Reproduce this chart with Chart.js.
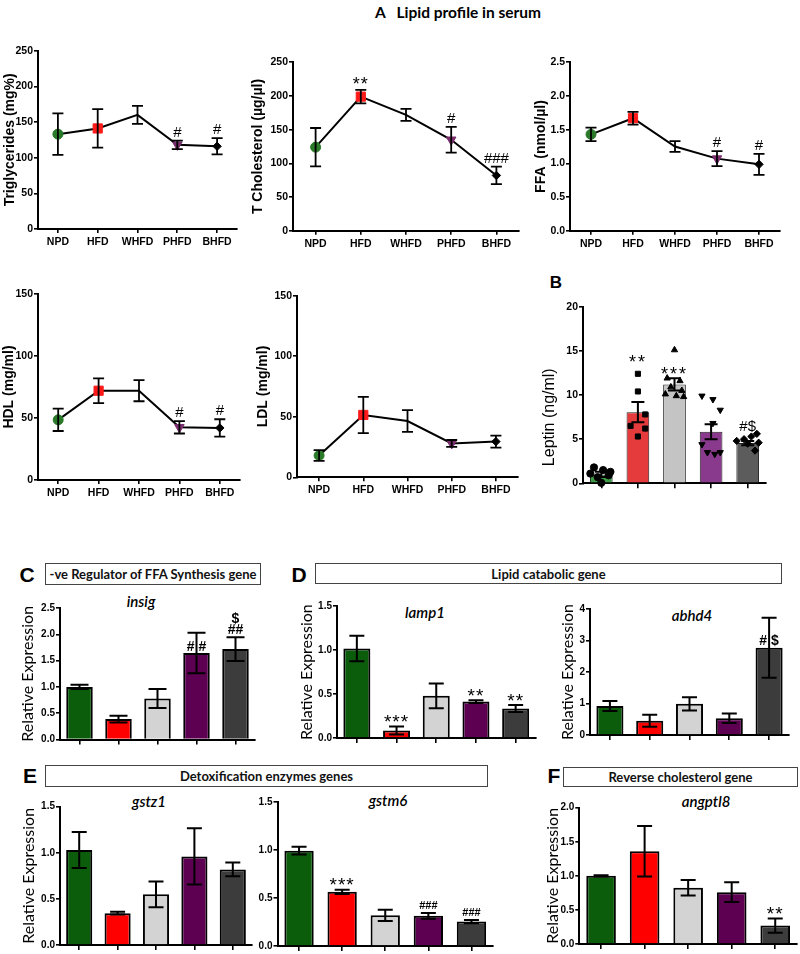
<!DOCTYPE html>
<html><head><meta charset="utf-8">
<script src="https://cdn.jsdelivr.net/npm/chart.js@4.4.1/dist/chart.umd.min.js"></script>
<style>
html,body{margin:0;padding:0;background:#fff;}
#wrap{position:relative;width:800px;height:954px;overflow:hidden;background:#fff;}
canvas{position:absolute;}
.c{position:absolute;white-space:nowrap;color:#000;transform:translate(-50%,-50%);}
.box{position:absolute;border:1px solid #444;box-sizing:border-box;display:flex;align-items:center;justify-content:center;font:bold 13px Lato,"Open Sans",sans-serif;color:#111;}
.let{font:bold 21px "Liberation Sans",Arial,sans-serif;}
.gene{font:italic 600 15px Lato,"Open Sans",sans-serif;}
</style></head><body><div id="wrap">
<div class="c" style="left:458px;top:12px;font:bold 15.5px Lato,'Open Sans',sans-serif;">A&nbsp;&nbsp;&nbsp;Lipid profile in serum</div>
<div class="c let" style="left:556px;top:283px;font-size:17px;">B</div>
<div class="c let" style="left:27px;top:575px;">C</div>
<div class="c let" style="left:299px;top:575px;">D</div>
<div class="c let" style="left:30px;top:776px;">E</div>
<div class="c let" style="left:554px;top:776px;">F</div>
<div class="box" style="left:45px;top:563px;width:216px;height:22px;">-ve Regulator of FFA Synthesis gene</div>
<div class="box" style="left:315px;top:563px;width:467px;height:21px;">Lipid catabolic gene</div>
<div class="box" style="left:45px;top:765px;width:443px;height:22px;">Detoxification enzymes genes</div>
<div class="box" style="left:563px;top:767px;width:235px;height:20px;">Reverse cholesterol gene</div>
<div class="c gene" style="left:141px;top:601px;">insig</div>
<div class="c gene" style="left:425px;top:612px;">lamp1</div>
<div class="c gene" style="left:692px;top:615px;">abhd4</div>
<div class="c gene" style="left:149px;top:801px;">gstz1</div>
<div class="c gene" style="left:388px;top:800px;">gstm6</div>
<div class="c gene" style="left:706px;top:801px;">angptl8</div>
</div>
<script>
// ---------------- DATA ----------------
const groups = ['NPD', 'HFD', 'WHFD', 'PHFD', 'BHFD'];

// A: lipid profile in serum (mean, SEM)
const tgMean = [133, 141, 160, 118, 116];
const tgSem  = [29, 27, 12.5, 6, 11.5];
const tgMarks = ['', '', '', '#', '#'];
const tgTicks = [0, 50, 100, 150, 200, 250];

const tcMean = [124, 199, 172, 135, 82];
const tcSem  = [28.5, 10, 9, 19, 13];
const tcMarks = ['', '**', '', '#', '###'];
const tcTicks = [0, 50, 100, 150, 200, 250];

const ffaMean = [1.43, 1.67, 1.25, 1.07, 0.985];
const ffaSem  = [0.10, 0.095, 0.08, 0.11, 0.155];
const ffaMarks = ['', '', '', '#', '#'];
const ffaTicks = [0, 0.5, 1.0, 1.5, 2.0, 2.5];

const hdlMean = [48.5, 72, 72, 42.5, 42];
const hdlSem  = [9, 10, 8.5, 5, 7];
const hdlMarks = ['', '', '', '#', '#'];
const hdlTicks = [0, 50, 100, 150];

const ldlMean = [18, 51.5, 46.5, 28, 29.5];
const ldlSem  = [4.4, 15, 9, 2.8, 5];
const ldlMarks = ['', '', '', '', ''];
const ldlTicks = [0, 50, 100, 150];

// B: leptin
const lepMean = [1.0, 8.05, 11.2, 5.85, 4.55];
const lepSem  = [0.3, 1.15, 0.7, 0.85, 0.25];
const lepMarks = ['', '**', '***', '', '#$'];
const lepMarkAt = [null, 14.1, 12.8, null, 6.5];
const lepTicks = [0, 5, 10, 15, 20];
// individual animals: [horizontal jitter in category units, value]
const lepNPD  = [[-0.2, 1.8], [0.05, 1.5], [0.25, 1.3], [-0.3, 1.1], [0.2, 0.9], [-0.1, 0.7], [0.0, 0.05]];
const lepHFD  = [[0.0, 12.4], [0.0, 10.4], [0.2, 7.8], [-0.2, 6.5], [0.2, 6.2], [0.0, 5.3]];
const lepWHFD = [[0.0, 15.1], [-0.2, 11.9], [0.15, 11.6], [-0.1, 10.9], [0.2, 10.5], [-0.25, 10.1], [0.05, 9.9], [0.25, 9.8]];
const lepPHFD = [[-0.25, 9.9], [0.05, 9.5], [0.25, 8.3], [0.05, 6.8], [-0.25, 4.4], [-0.1, 3.5], [0.1, 3.3], [0.25, 3.5]];
const lepBHFD = [[0.25, 5.6], [0.1, 5.3], [-0.1, 5.0], [-0.3, 4.8], [0.3, 4.6], [0.0, 4.5], [0.2, 3.7]];

// C
const insigMean = [1.0, 0.39, 0.78, 1.645, 1.72];
const insigSem  = [0.04, 0.065, 0.18, 0.385, 0.225];
const insigMarks = ['', '', '', '# #', ['$', '##']];
const insigTicks = [0, 0.5, 1.0, 1.5, 2.0, 2.5];
// D
const lampMean = [1.02, 0.085, 0.48, 0.415, 0.335];
const lampSem  = [0.145, 0.045, 0.14, 0.015, 0.04];
const lampMarks = ['', '***', '', '**', '**'];
const lampTicks = [0, 0.5, 1.0, 1.5];
const abhdMean = [0.92, 0.455, 0.99, 0.53, 2.77];
const abhdSem  = [0.16, 0.19, 0.21, 0.15, 0.95];
const abhdMarks = ['', '', '', '', '# $'];
const abhdTicks = [0, 1, 2, 3, 4];
// E
const gstzMean = [1.03, 0.345, 0.55, 0.96, 0.82];
const gstzSem  = [0.195, 0.015, 0.14, 0.305, 0.075];
const gstzMarks = ['', '', '', '', ''];
const gstzTicks = [0, 0.5, 1.0, 1.5];
const gstmMean = [0.995, 0.565, 0.32, 0.315, 0.255];
const gstmSem  = [0.04, 0.022, 0.058, 0.03, 0.017];
const gstmMarks = ['', '***', '', '###', '###'];
const gstmTicks = [0, 0.5, 1.0, 1.5];
// F
const angMean = [1.0, 1.36, 0.825, 0.76, 0.27];
const angSem  = [0.008, 0.37, 0.115, 0.145, 0.105];
const angMarks = ['', '', '', '', '**'];
const angTicks = [0, 0.5, 1.0, 1.5, 2.0];

// ---------------- STYLE ----------------
const LINE_COL = ['#2a7a2a', '#ff1a1a', 'rgba(0,0,0,0)', '#7b2e6e', '#000000'];
const LINE_STY = ['circle', 'rect', 'triangle', 'triangle', 'rectRot'];
const LINE_ROT = [0, 0, 0, 180, 0];
const LINE_R   = [5, 6.5, 0, 5.5, 4.2];
const LEP_COL  = ['#3d9a45', '#e63b3d', '#c4c4c4', '#8a3a8c', '#5c5c5c'];
const GENE_COL = ['#0b5d0b', '#ff0000', '#d3d3d3', '#5e0052', '#3c3c3c'];

function hasFont(name) {
  const c = document.createElement('canvas').getContext('2d');
  c.font = 'bold 40px "' + name + '", monospace'; const a = c.measureText('WHFD 0123 mg').width;
  c.font = 'bold 40px "' + name + '", serif'; const b = c.measureText('WHFD 0123 mg').width;
  return Math.abs(a - b) < 0.5;
}
const NARROW = hasFont('Liberation Sans Narrow');
const TICKF = NARROW ? {family: '"Liberation Sans Narrow"', size: 12, weight: 'bold'}
                     : {family: '"Liberation Sans", Arial', size: 10.5, weight: 'bold'};
const BTICKF = {family: '"Liberation Sans", Arial', size: 10, weight: 'bold'};

const ERR = {};
Chart.register({
  id: 'errmarks',
  afterDatasetsDraw(chart) {
    const o = ERR[chart.canvas.id]; if (!o) return;
    const ctx = chart.ctx, xs = chart.scales.x, ys = chart.scales.y;
    ctx.save();
    ctx.strokeStyle = '#000'; ctx.fillStyle = '#000'; ctx.lineWidth = o.lw; ctx.lineCap = 'butt';
    o.mean.forEach((m, i) => {
      const x = xs.getPixelForValue(i);
      const yt = ys.getPixelForValue(m + o.sem[i]), yb = ys.getPixelForValue(m - o.sem[i]);
      ctx.beginPath();
      ctx.moveTo(x, yt); ctx.lineTo(x, yb);
      ctx.moveTo(x - o.cap, yt); ctx.lineTo(x + o.cap, yt);
      ctx.moveTo(x - o.cap, yb); ctx.lineTo(x + o.cap, yb);
      ctx.stroke();
      const mk = o.marks[i]; if (!mk) return;
      const lines = Array.isArray(mk) ? mk : [mk];
      let cy;
      if (o.markAt && o.markAt[i] != null) cy = ys.getPixelForValue(o.markAt[i]);
      else if (o.onBar && o.onBar.includes(i)) cy = ys.getPixelForValue(m) - o.barGap;
      else cy = yt - o.gap;
      ctx.textAlign = 'center'; ctx.textBaseline = 'alphabetic';
      for (let k = lines.length - 1; k >= 0; k--) {
        const s = lines[k];
        const star = s.includes('*');
        ctx.font = star ? o.starFont : o.hashFont;
        try { ctx.letterSpacing = star ? o.starSp : '0px'; } catch (e) {}
        const mt = ctx.measureText(s);
        const off = (mt.actualBoundingBoxAscent - mt.actualBoundingBoxDescent) / 2;
        ctx.fillText(s, x, cy + off);
        cy -= o.lineStep || 12;
      }
      try { ctx.letterSpacing = '0px'; } catch (e) {}
    });
    ctx.restore();
  }
});

let cid = 0;
function makeCanvas(g, lh, xh) {
  const left = Math.max(0, Math.floor(g.tx - lh / 2 - 2));
  const top = Math.floor(g.top - 14);
  const w = Math.ceil(g.ar + 6 - left);
  const h = Math.ceil(g.zero + xh - top);
  const cv = document.createElement('canvas');
  cv.id = 'c' + (cid++);
  cv.width = w; cv.height = h;
  cv.style.left = left + 'px'; cv.style.top = top + 'px';
  cv.style.width = w + 'px'; cv.style.height = h + 'px';
  document.getElementById('wrap').appendChild(cv);
  return {cv, yW: g.ax - left, padT: g.top - top, padR: left + w - g.ar, xH: top + h - g.zero, tPad: g.tx - left - lh / 2};
}

function axisBase(c, ticks, dec, tickFont, xLabels) {
  return {
    x: {
      offset: true,
      afterFit: s => { s.height = c.xH; },
      grid: {display: true, drawOnChartArea: false, drawTicks: true, tickLength: xLabels ? 4 : 5, color: '#000', lineWidth: 1.6, offset: false},
      border: {display: true, color: '#000', width: 2},
      ticks: {display: xLabels, color: '#000', font: tickFont, padding: 3, maxRotation: 0, autoSkip: false}
    },
    y: {
      min: 0, max: ticks[ticks.length - 1],
      afterBuildTicks: s => { s.ticks = ticks.map(v => ({value: v})); },
      afterFit: s => { s.width = c.yW; },
      grid: {display: true, drawOnChartArea: false, drawTicks: true, tickLength: 4, color: '#000', lineWidth: 1.6},
      border: {display: true, color: '#000', width: 2},
      ticks: {color: '#000', font: tickFont, padding: 1, callback: v => Number(v).toFixed(dec)}
    }
  };
}

function baseOpts(c, scales) {
  return {
    responsive: false, animation: false, devicePixelRatio: 1,
    layout: {padding: {top: c.padT, right: c.padR, left: 0, bottom: 0}},
    plugins: {legend: {display: false}, tooltip: {enabled: false}, title: {display: false}},
    scales
  };
}

function lineChart(g, mean, sem, ticks, dec, title, marks) {
  const lh = 14 * 1.1;
  const c = makeCanvas(g, lh, 24);
  const sc = axisBase(c, ticks, dec, TICKF, true);
  sc.y.title = {display: true, text: title, color: '#000',
    font: {family: '"Liberation Sans", Arial', size: 14, weight: 'bold', lineHeight: 1.1},
    padding: {top: c.tPad, bottom: 0}};
  ERR[c.cv.id] = {mean, sem, cap: 5.5, lw: 1.8, marks, gap: 9,
    hashFont: '15px "Liberation Sans", Arial', starFont: '18px "Liberation Sans", Arial', starSp: '1px'};
  new Chart(c.cv, {
    type: 'line',
    data: {labels: groups, datasets: [{
      data: mean, borderColor: '#000', borderWidth: 2, tension: 0, fill: false, clip: false,
      pointStyle: LINE_STY, pointRotation: LINE_ROT, pointRadius: LINE_R,
      pointBackgroundColor: LINE_COL, pointBorderColor: LINE_COL, pointBorderWidth: 1
    }]},
    options: baseOpts(c, sc)
  });
}

function geneChart(g, mean, sem, ticks, dec, marks, extra, showTitle) {
  const lh = 15 * 1.15;
  const c = makeCanvas(g, lh, 10);
  const sc = axisBase(c, ticks, dec, BTICKF, false);
  sc.y.title = {display: showTitle !== false, text: 'Relative Expression', color: '#000',
    font: {family: 'Lato, "Open Sans", sans-serif', size: 16, weight: 'normal', lineHeight: 1.15},
    padding: {top: c.tPad, bottom: 0}};
  ERR[c.cv.id] = Object.assign({mean, sem, cap: 7.5, lw: 2, marks, gap: 8, barGap: 7, lineStep: 11,
    hashFont: 'bold 14px "Liberation Sans", Arial', starFont: '19px "Liberation Sans", Arial', starSp: '1px'}, extra || {});
  new Chart(c.cv, {
    type: 'bar',
    data: {labels: groups, datasets: [{
      data: mean, backgroundColor: GENE_COL, borderColor: '#000', borderWidth: 2,
      borderSkipped: 'bottom', barPercentage: 0.68, categoryPercentage: 1
    }]},
    options: baseOpts(c, sc)
  });
}

// ---------------- LAYOUT (pixel geometry of each panel's axes) ----------------
const L = {
  tg:   {ax: 38,    ar: 237,   top: 50.7,  zero: 229,   tx: 10},
  tc:   {ax: 293,   ar: 519,   top: 62.3,  zero: 230.7, tx: 258},
  ffa:  {ax: 570,   ar: 780,   top: 62.3,  zero: 230.7, tx: 541},
  hdl:  {ax: 38,    ar: 240,   top: 294,   zero: 480,   tx: 9},
  ldl:  {ax: 297,   ar: 518,   top: 295.7, zero: 477.3, tx: 263},
  lep:  {ax: 583,   ar: 766,   top: 306.7, zero: 483.3, tx: 550},
  ins:  {ax: 60,    ar: 255,   top: 608,   zero: 739.6, tx: 27.5},
  lam:  {ax: 337,   ar: 535.5, top: 606.3, zero: 738,   tx: 306},
  abh:  {ax: 590,   ar: 789,   top: 609,   zero: 735,   tx: 567},
  gsz:  {ax: 60,    ar: 252,   top: 806.7, zero: 945,   tx: 28},
  gsm:  {ax: 277.5, ar: 493,   top: 802.3, zero: 946,   tx: 262},
  ang:  {ax: 579.3, ar: 797,   top: 807.7, zero: 944,   tx: 552}
};

lineChart(L.tg,  tgMean,  tgSem,  tgTicks,  0, 'Triglycerides (mg%)', tgMarks);
lineChart(L.tc,  tcMean,  tcSem,  tcTicks,  0, 'T Cholesterol (\u00b5g/\u00b5l)', tcMarks);
lineChart(L.ffa, ffaMean, ffaSem, ffaTicks, 1, 'FFA  (nmol/\u00b5l)', ffaMarks);
lineChart(L.hdl, hdlMean, hdlSem, hdlTicks, 0, 'HDL (mg/ml)', hdlMarks);
lineChart(L.ldl, ldlMean, ldlSem, ldlTicks, 0, 'LDL (mg/ml)', ldlMarks);

// Leptin (bar + individual points)
(function () {
  const g = L.lep, lh = 16 * 1.15;
  const c = makeCanvas(g, lh, 10);
  const sc = axisBase(c, lepTicks, 0, TICKF, false);
  // trailing non-breaking spaces shift the centred label downwards, as in the original
  sc.y.title = {display: true, text: 'Leptin (ng/ml)' + '\u00a0'.repeat(10), color: '#000',
    font: {family: '"Liberation Sans", Arial', size: 16, weight: 'normal', lineHeight: 1.15},
    padding: {top: c.tPad, bottom: 0}};
  sc.x2 = {type: 'linear', axis: 'x', min: -0.5, max: 4.5, display: false, offset: false, grid: {offset: false}};
  const sets = [lepNPD, lepHFD, lepWHFD, lepPHFD, lepBHFD];
  const pts = [], sty = [], rot = [];
  sets.forEach((s, i) => s.forEach(p => { pts.push({x: i + p[0], y: p[1]}); sty.push(LINE_STY[i]); rot.push(LINE_ROT[i]); }));
  ERR[c.cv.id] = {mean: lepMean, sem: lepSem, cap: 6.5, lw: 2, marks: lepMarks, markAt: lepMarkAt, gap: 8,
    hashFont: '15px "Liberation Sans", Arial', starFont: '18px "Liberation Sans", Arial', starSp: '2px'};
  new Chart(c.cv, {
    type: 'bar',
    data: {labels: groups, datasets: [
      {type: 'bar', xAxisID: 'x', data: lepMean, backgroundColor: LEP_COL, borderColor: '#222', borderWidth: 1,
       borderSkipped: 'bottom', grouped: false, barPercentage: 0.62, categoryPercentage: 1, order: 2},
      {type: 'scatter', xAxisID: 'x2', yAxisID: 'y', data: pts, pointStyle: sty, pointRotation: rot, pointRadius: 3.6,
       pointBackgroundColor: '#000', pointBorderColor: '#000', showLine: false, clip: false, order: 1}
    ]},
    options: baseOpts(c, sc)
  });
})();

geneChart(L.ins, insigMean, insigSem, insigTicks, 1, insigMarks, {onBar: [3], cap: 9});
geneChart(L.lam, lampMean, lampSem, lampTicks, 1, lampMarks);
geneChart(L.abh, abhdMean, abhdSem, abhdTicks, 0, abhdMarks, {onBar: [4]});
geneChart(L.gsz, gstzMean, gstzSem, gstzTicks, 1, gstzMarks);
geneChart(L.gsm, gstmMean, gstmSem, gstmTicks, 1, gstmMarks, {hashFont: 'bold 11px "Liberation Sans", Arial'}, false);
geneChart(L.ang, angMean, angSem, angTicks, 1, angMarks);
</script></body></html>
